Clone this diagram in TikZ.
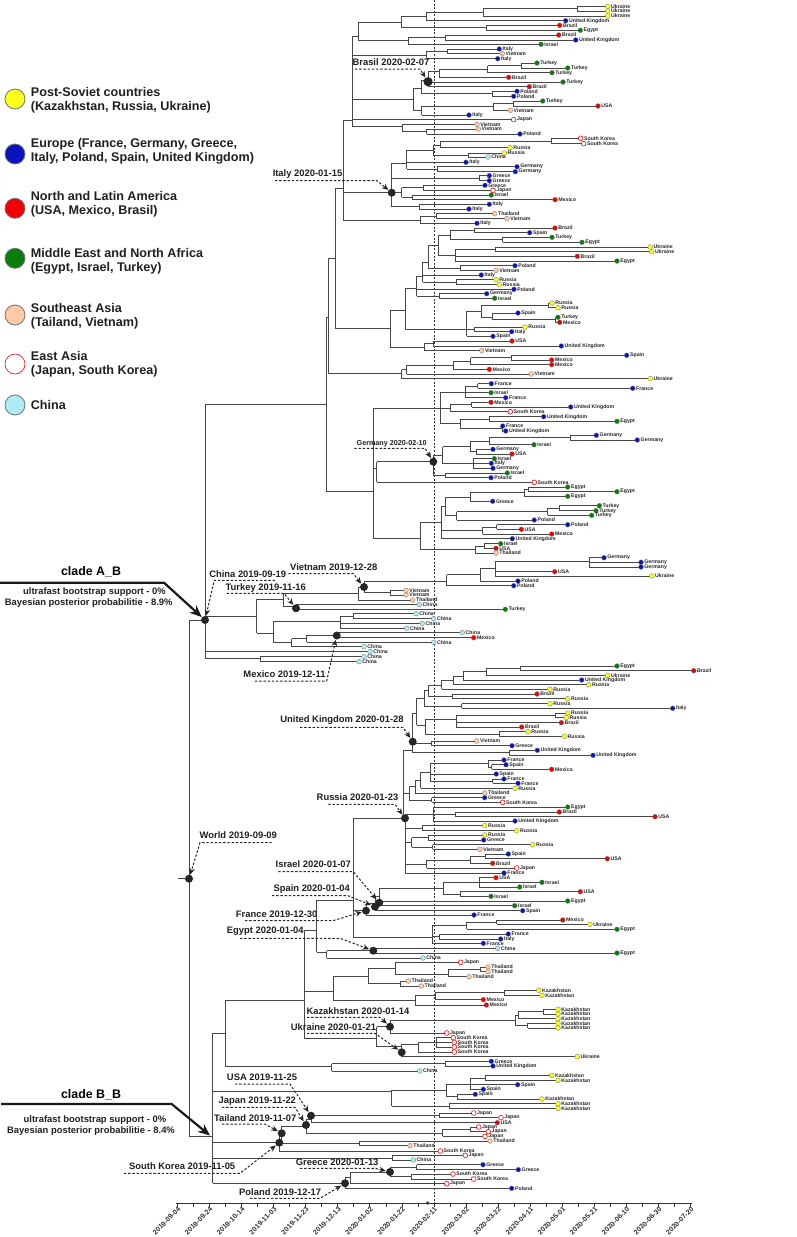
\documentclass[tikz,border=0pt]{standalone}
\usepackage{fontspec}
\setmainfont{Liberation Sans}
\usepackage{tikz}
\usetikzlibrary{arrows.meta}

\definecolor{psov}{HTML}{FFFF1A}
\definecolor{euro}{HTML}{0A14BE}
\definecolor{amer}{HTML}{F00000}
\definecolor{mena}{HTML}{0B7D0B}
\definecolor{seas}{HTML}{FFC9A3}
\definecolor{chin}{HTML}{AEEBF5}

\begin{document}
\begin{tikzpicture}[x=0.5pt,y=-0.5pt,
  br/.style={line width=0.4pt,black!72},
  tip/.style={circle,inner sep=0pt,minimum size=2.4pt,draw=black!55,line width=0.15pt},
  pso/.style={fill=psov}, eur/.style={fill=euro}, ame/.style={fill=amer},
  mea/.style={fill=mena}, sea/.style={fill=seas}, chn/.style={fill=chin},
  eas/.style={fill=white,draw=red,line width=0.3pt},
  lab/.style={anchor=west,inner sep=0pt,xshift=1.5pt,text=black!85,font=\fontsize{2.6}{3}\selectfont\bfseries},
  hub/.style={circle,fill=black!85,inner sep=0pt,minimum size=4pt},
  ann/.style={inner sep=0pt,text=black!88,font=\fontsize{4.7}{5.6}\selectfont\bfseries},
  call/.style={line width=0.5pt,black!85,dash pattern=on 1.2pt off 0.9pt,-{Stealth[length=3.2pt,width=2.8pt]}},
  big/.style={line width=1.1pt,black!90,-{Stealth[length=6pt,width=5pt]}},
  key/.style={circle,inner sep=0pt,minimum size=10pt,draw=black!55,line width=0.4pt},
  legtxt/.style={anchor=west,align=left,inner sep=0pt,text=black!88,font=\fontsize{6.3}{7}\selectfont\bfseries},
  datelab/.style={anchor=north east,rotate=45,inner sep=0pt,text=black!80,font=\fontsize{3.5}{4}\selectfont\bfseries}]

\useasboundingbox (0,0) rectangle (797,1237);

% Legend
\foreach \yy/\cc in {99/pso,154/eur,208.3/ame,258.3/mea,315/sea,364/eas,405/chn}
  \node[key,\cc] at (15,\yy) {};
\node[legtxt] (lg1) at (30.5,100.3) {Post-Soviet countries\\(Kazakhstan, Russia, Ukraine)};
\node[legtxt] (lg2) at (30.5,151.3) {Europe (France, Germany, Greece,\\Italy, Poland, Spain, United Kingdom)};
\node[legtxt] (lg3) at (30.5,204.7) {North and Latin America\\(USA, Mexico, Brasil)};
\node[legtxt] (lg4) at (30.5,261.3) {Middle East and North Africa\\(Egypt, Israel, Turkey)};
\node[legtxt] (lg5) at (30.5,316.3) {Southeast Asia\\(Tailand, Vietnam)};
\node[legtxt] (lg6) at (30.5,364.2) {East Asia\\(Japan, South Korea)};
\node[legtxt] (lg7) at (30.5,405.3) {China};

% Reference date line
\draw[line width=0.45pt,black!80,dash pattern=on 1pt off 0.8pt] (434,0) -- (434,1203);

% Internal branches: parent x / node x / y / top / bottom
\foreach \xp/\x/\y/\ya/\yb in {
  343.3/352/120.7/36/126.7, 352/358/36/22.7/40.7, 358/401.7/22.7/16/27.8,
  401.7/426/16/12.7/20.7, 426/483/12.7/8.7/16, 483/577/8.7/6.3/11,
  401.7/486/27.8/25.3/30.3, 358/408/40.7/37.5/44.3, 408/445/37.5/35/40,
  352/426/55/51.3/58.7, 426/447.7/51.3/49/53.7, 352/413.3/99/88/110.5,
  413.3/421.7/88/80/93.8, 421.7/428/80/71/86.7, 428/439/71/69/77.3,
  439/487.7/69/65.5/72.7, 487.7/521/65.5/63/68, 421.7/492/93.8/91.3/96.3,
  413.3/421.7/110.5/106/115, 421.7/493/106/103.5/110.3, 493/513/103.5/101/106,
  352/402/126.7/124.3/131.5, 402/426.7/131.5/129/134,
  335/343.3/188/120.7/220, 343.3/391.7/192.7/163/206.7, 391.7/406.7/163/150/169.2,
  406.7/433.3/150/145.3/155, 433.3/440/145.3/141/147.7, 440/551.7/141/138.3/143.7,
  433.3/468.3/155/153/157, 406.7/437/169.2/166.7/171.7, 391.7/479/178.2/175.7/180.7,
  391.7/401.7/192.7/187.8/197.3, 401.7/423.3/187.8/185.3/190.3, 401.7/412.7/197.3/195/199.7,
  391.7/419.3/206.7/204.3/209, 343.3/420/220/216.2/223.3, 420/436/216.2/213.7/218.7,
  328.3/335/258/188/328.3, 335/390/328.3/310/347, 390/405/310/288/329.3,
  405/416.7/288/276/296, 416.7/422.7/276/262/282.2, 422.7/428.3/262/245/268,
  428.3/438.3/245/235/255, 438.3/450.7/235/230.3/239.8, 450.7/474/230.3/228/232.7,
  450.7/502.7/239.8/237.3/242.3, 438.3/455/255/249.3/261, 455/495/249.3/247/251.7,
  428.3/460/268/265.7/270.3, 422.7/456/282.2/279.7/284.7, 416.7/439/296/293.7/298.3,
  405/466.7/329.3/311/336.3, 466.7/481.7/311/305.3/317.6, 481.7/548/305.3/303/307.7,
  481.7/492.3/317.6/313/319.8, 492.3/555/319.8/317.3/322.3, 466.7/474/329.3/327/331.7,
  390/424/347/343.5/350.7, 424/433.3/343.5/341/346,
  326.7/328.3/317/258/373, 328.3/401.7/373/369.6/378.7, 401.7/406.7/369.6/365.2/374,
  406.7/453.3/365.2/361.2/369.3, 453.3/470.7/361.2/357.7/364.7, 470.7/511/357.7/355.3/360,
  205/326.7/404/317/491.7, 326.7/373/491.7/408/538.3,
  373/440/408/392/423.7, 440/465/392/386/397.7, 465/477.7/386/383.7/388.3,
  440/450/408.2/404.7/411.7, 450/471.7/404.7/402.3/407, 440/460/423.7/419/428.5,
  460/489/419/416.7/421.3, 460/502/428.5/426/431,
  373/376.7/468/461.7/482.3, 376.7/433.3/461.7/455/475.3, 433.3/442.7/455/446.5/463.5,
  442.7/470/446.5/441.2/451.7, 470/489.3/441.2/437.7/444.7, 489.3/570/437.7/435.3/440,
  470/476/451.7/449.3/454, 442.7/473.3/463.5/458.7/468.3, 433.3/445/475.3/473/477.7,
  373/420.7/538.3/522/549.5, 420.7/441.7/522/506.4/538.7, 441.7/445.7/506.4/497/515.8,
  445.7/470/497/492.8/501.3, 470/524/492.8/489.3/496.3, 524/528.3/489.3/487/491.7,
  445.7/456.7/515.8/511.7/520, 456.7/547.7/511.7/508.2/515.3, 547.7/559.3/508.2/505.7/510.7,
  441.7/482.7/530.5/527/534, 482.7/496.7/527/524.7/529.3, 420.7/475/549.5/546/553,
  475/484/546/543.7/548.3,
  189/205/620/404/658.3, 205/256.7/616.7/599/633, 256.7/283.3/599/593.3/606.7,
  283.3/358.3/593.3/587.3/600, 358.3/364/587.3/581.7/592.7, 364/446.7/581.7/574.7/585.7,
  446.7/480/574.7/568.5/581, 480/495/568.5/561.2/576, 495/589/561.2/557.7/567,
  364/390/592.7/590.3/595, 283.3/296/606.7/604.7/609.3, 256.7/273.3/633/621/642.3,
  273.3/340/621/616.2/628.3, 340/353.3/616.2/613.7/618.7, 273.3/291.7/642.3/638.5/646.7,
  291.7/306.7/638.5/635.2/642.3, 306.7/336.7/635.2/632.7/637.7, 205/260/658.3/656.7/661.7,
  178/189/878.7/620/1136.7,
  189/212.7/1136.7/1033/1183.3, 212.7/225.7/1033/1000/1066.7, 225.7/304/1000/930/1038.3,
  304/316.7/930/900/952, 316.7/353.3/900/818/937, 353.3/403.3/818/750/818,
  403.3/412.7/750/713/752.8, 412.7/416.7/713/698/725, 416.7/424/698/690/706,
  424/428.3/690/685/696.3, 428.3/441.7/685/680/689.3, 441.7/453.3/680/676/684.7,
  453.3/463.3/676/671.7/680, 463.3/486/671.7/668.3/675.3, 486/520/668.3/666/670.7,
  428.3/452.7/696.3/694/698.7, 424/461.7/706/703.7/708.3, 416.7/425/725/719/734,
  425/456/719/715.3/727, 456/555/715.3/713/717.7, 425/499.3/734/731.7/736.3,
  412.7/431.3/743.3/741/745.7, 412.7/509.3/752.8/750.3/755.3,
  403.3/409.3/793/786.7/800, 409.3/415/786.7/780.3/793, 415/420.7/780.3/772.3/788.3,
  420.7/430/772.3/763.5/781.2, 430/488.3/763.5/760/767, 488.3/491.7/767/764.7/769.3,
  430/492.7/781.2/779/783.3, 409.3/431.7/800/797.7/802.3,
  403.3/405/818/814/873, 405/433.3/814/807/821, 433.3/455/814.3/812/816.7,
  405/422.3/828.2/825.7/830.7, 405/411.7/842/837.5/847, 411.7/428.3/837.5/835/840,
  411.7/432.7/847/844.7/849.3, 405/426.7/864/860/868, 426.7/470/860/856.3/863.3,
  470/485/856.3/854/858.7,
  353.3/366/910.7/903/915, 366/375/903/896/910.7, 375/379.3/896/888/905.7,
  379.3/443.3/888/882.3/894, 443.3/479.3/882.3/877.7/887, 443.3/460/894/891.7/896.3,
  353.3/432/937/925.7/943.3, 432/466.7/925.7/922.3/929.3, 466.7/496.7/922.3/920/924.3,
  432/439.3/936.5/934/939, 316.7/326.7/952/950.7/958, 326.7/373.3/950.7/948.3/953,
  304/333.3/991.7/976/1000, 333.3/368.3/976/968/983.5, 368.3/395/968/962.3/974.3,
  395/448.3/974.3/969.3/976.7, 448.3/480/969.3/967/971.7, 368.3/400/983.5/981/986,
  333.3/415/1000/995/1005, 415/435/995/992.7/999.7, 435/504.3/992.7/990.3/995.3,
  304/376.7/1038.3/1026.7/1046.7, 376.7/390/1026.7/1020/1033, 390/515/1020/1015/1025.7,
  515/518.3/1015/1011.7/1018.7, 518.3/543.3/1011.7/1009.3/1014, 515/527.7/1025.7/1023.3/1028,
  376.7/401.7/1046.7/1044/1056.7, 401.7/418.3/1044/1042/1052, 418.3/436/1042/1037.7/1047,
  225.7/331.7/1066.7/1063.6/1071, 331.7/445/1063.6/1061.3/1066,
  212.7/391.7/1091.7/1090/1106, 391.7/446.7/1090/1084/1096.7, 446.7/470/1084/1078/1089.3,
  470/485/1078/1075.3/1080.3, 446.7/457.3/1096.7/1094.3/1099, 391.7/449.3/1106/1103.7/1108.3,
  212.7/279.3/1142.7/1134.7/1151, 279.3/281.7/1134.7/1126/1143.3, 281.7/306/1126/1119/1133.3,
  306/311/1119/1115.3/1122.7, 311/439.3/1115.3/1113/1117.7, 306/442.7/1133.3/1129.3/1136.3,
  442.7/470.7/1129.3/1127/1131.7, 281.7/359.3/1143.3/1141/1145.7,
  212.7/392.3/1158/1155.3/1160, 212.7/345/1183.3/1177.8/1188.3, 345/350.7/1177.8/1172/1183.7,
  350.7/390/1172/1167.2/1176.5, 390/416.7/1167.2/1164.7/1169.7, 390/411/1176.5/1174/1179}
  \draw[br] (\xp,\y) -- (\x,\y) (\x,\ya) -- (\x,\yb);

% Tips: y / parent x / tip x / region / country
\foreach \y/\xp/\xl/\cc/\nm in {
  6.3/577/607.7/pso/Ukraine, 11/577/607.7/pso/Ukraine, 16/483/607.7/pso/Ukraine,
  20.7/426/565.7/eur/United Kingdom, 25.3/486/559.7/ame/Brazil, 30.3/486/580.3/mea/Egypt,
  35/445/558.7/ame/Brazil, 40/445/575.7/eur/United Kingdom, 44.3/408/541/mea/Israel,
  49/447.7/499.3/eur/Italy, 53.7/447.7/502.3/sea/Vietnam, 58.7/426/497.7/eur/Italy,
  63/521/537/mea/Turkey, 68/521/567.7/mea/Turkey, 72.7/487.7/552/mea/Turkey,
  77.3/439/508.7/ame/Brazil, 82/428/563/mea/Turkey, 86.7/428/529.3/ame/Brazil,
  91.3/492/517/eur/Poland, 96.3/492/513.7/eur/Poland, 101/513/542.7/mea/Turkey,
  106/513/598/ame/USA, 110.3/493/510.3/sea/Vietnam, 115/421.7/469/eur/Italy,
  119.7/352/513.7/eas/Japan, 124.3/402/477/sea/Vietnam, 129/426.7/478.3/sea/Vietnam,
  134/426.7/520/eur/Poland, 138.3/551.7/580.7/eas/South Korea, 143.7/551.7/583.7/eas/South Korea,
  147.7/440/510/pso/Russia, 153/468.3/504.3/pso/Russia, 157/468.3/488/chn/China,
  162.3/406.7/466/eur/Italy, 166.7/437/517/eur/Germany, 171.7/437/515.3/eur/Germany,
  175.7/479/489.3/eur/Greece, 180.7/479/489.3/eur/Greece, 185.3/423.3/485/eur/Greece,
  190.3/423.3/493/eas/Japan, 195/412.7/491.3/mea/Israel, 199.7/412.7/555/ame/Mexico,
  204.3/419.3/489.3/eur/Italy, 209/419.3/469/eur/Italy, 213.7/436/494.7/sea/Thailand,
  218.7/436/507/sea/Vietnam, 223.3/420/477/eur/Italy, 228/474/555/ame/Brazil,
  232.7/474/529.7/eur/Spain, 237.3/502.7/552/mea/Turkey, 242.3/502.7/582/mea/Egypt,
  247/495/650.3/pso/Ukraine, 251.7/495/651.7/pso/Ukraine, 256.3/455/577.3/ame/Brazil,
  261/455/617/mea/Egypt, 265.7/460/515/eur/Poland, 270.3/460/496/sea/Vietnam,
  275/422.7/481.3/eur/Italy, 279.7/456/496/pso/Russia, 284.7/456/499.3/pso/Russia,
  289.3/416.7/514/eur/Poland, 293.7/439/486.7/eur/Germany, 298.3/439/494.7/mea/Israel,
  303/548/552/pso/Russia, 307.7/548/558/pso/Russia, 313/492.3/518/eur/Spain,
  317.3/555/558/mea/Turkey, 322.3/555/559.7/ame/Mexico, 327/474/525/pso/Russia,
  331.7/474/511.7/eur/Italy, 336.3/466.7/493/eur/Spain, 341/433.3/512/ame/USA,
  346/433.3/561.3/eur/United Kingdom, 350.7/424/481.7/sea/Vietnam, 355.3/511/626.7/eur/Spain,
  360/511/551.7/ame/Mexico, 364.7/470.7/551.7/ame/Mexico, 369.3/453.3/489.3/ame/Mexico,
  374/406.7/531.3/sea/Vietnam, 378.7/401.7/650.3/pso/Ukraine, 383.7/477.7/491.3/eur/France,
  388.3/477.7/632.7/eur/France, 392.7/465/491/mea/Israel, 397.7/465/505.7/eur/France,
  402.3/471.7/491/ame/Mexico, 407/471.7/570.7/eur/United Kingdom, 411.7/450/510.3/eas/South Korea,
  416.7/489/543.7/eur/United Kingdom, 421.3/489/617/mea/Egypt, 426/502/502.7/eur/France,
  431/502/505.7/eur/United Kingdom, 435.3/570/596.3/eur/Germany, 440/570/637.3/eur/Germany,
  444.7/489.3/534/mea/Israel, 449.3/476/493/eur/Germany, 454/476/512/ame/USA,
  458.7/473.3/494.3/mea/Israel, 463.3/473.3/491.3/eur/Italy, 468.3/473.3/493/eur/Germany,
  473/445/507.3/mea/Israel, 477.7/445/491/eur/Poland, 482.3/376.7/534.3/eas/South Korea,
  487/528.3/567.7/mea/Egypt, 491.7/528.3/617/mea/Egypt, 496.3/524/567.7/mea/Egypt,
  501.3/470/492.7/eur/Greece, 505.7/559.3/599.3/mea/Turkey, 510.7/559.3/596/mea/Turkey,
  515.3/547.7/591.7/mea/Turkey, 520/456.7/534.3/eur/Poland, 524.7/496.7/567.7/eur/Poland,
  529.3/496.7/521.3/ame/USA, 534/482.7/551.7/ame/Mexico, 538.7/441.7/512.3/eur/United Kingdom,
  543.7/484/500.7/mea/Israel, 548.3/484/496/ame/USA, 553/475/496/sea/Thailand,
  557.7/589/604/eur/Germany, 562.3/589/641/eur/Germany, 567/589/641/eur/Germany,
  571.7/495/554.7/ame/USA, 576/495/651.7/pso/Ukraine, 581/480/518/eur/Poland,
  585.7/446.7/513.7/eur/Poland, 590.3/390/406/sea/Vietnam, 595/390/406/sea/Vietnam,
  600/358.3/412.7/sea/Thailand, 604.7/296/419.3/chn/China, 609.3/296/505.3/mea/Turkey,
  613.7/353.3/416/chn/China, 618.7/353.3/433.7/chn/China, 623.3/340/422.3/chn/China,
  628.3/340/406.7/chn/China, 632.7/336.7/462.3/chn/China, 637.7/336.7/473.7/ame/Mexico,
  642.3/306.7/433.7/chn/China, 646.7/291.7/364/chn/China, 651.7/205/370/chn/China,
  656.7/260/364/chn/China, 661.7/260/359/chn/China,
  666/520/617/mea/Egypt, 670.7/520/693.7/ame/Brazil, 675.3/486/607.7/pso/Ukraine,
  680/463.3/581.7/eur/United Kingdom, 684.7/453.3/588.7/pso/Russia, 689.3/441.7/550/pso/Russia,
  694/452.7/537/ame/Brazil, 698.7/452.7/567.7/pso/Russia, 703.7/461.7/550/pso/Russia,
  708.3/461.7/672.7/eur/Italy, 713/555/567.7/pso/Russia, 717.7/555/566.3/pso/Russia,
  722.7/456/561.3/ame/Brazil, 727/456/521.7/ame/Brazil, 731.7/499.3/528/pso/Russia,
  736.3/499.3/564.3/pso/Russia, 741/431.3/476.7/sea/Vietnam, 745.7/431.3/512/eur/Greece,
  750.3/509.3/537.3/eur/United Kingdom, 755.3/509.3/593/eur/United Kingdom, 760/488.3/504/eur/France,
  764.7/491.7/506/eur/Spain, 769.3/491.7/551.7/ame/Mexico, 774/430/496.3/eur/Spain,
  779/492.7/504/eur/France, 783.3/492.7/518/eur/France, 788.3/420.7/515/pso/Russia,
  793/415/484.7/sea/Thailand, 797.7/431.7/484.7/eur/Greece, 802.3/431.7/502.7/eas/South Korea,
  807/433.3/567.7/mea/Egypt, 812/455/559.3/ame/Brazil, 816.7/455/655/ame/USA,
  821/433.3/515/eur/United Kingdom, 825.7/422.3/484.7/pso/Russia, 830.7/422.3/516.7/pso/Russia,
  835/428.3/484.7/pso/Russia, 840/428.3/483.7/eur/Greece, 844.7/432.7/532.7/pso/Russia,
  849.3/432.7/480/sea/Vietnam, 854/485/508.3/eur/Spain, 858.7/485/607.3/ame/USA,
  863.3/470/492.7/ame/Brazil, 868/426.7/516.7/eas/Japan, 873/405/504/eur/France,
  877.7/479.3/496/ame/USA, 882.3/479.3/542/mea/Israel, 887/479.3/519.7/mea/Israel,
  891.7/460/580.3/ame/USA, 896.3/460/491/mea/Israel, 901/379.3/567.7/mea/Egypt,
  905.7/379.3/514.7/mea/Israel, 910.7/375/522.7/eur/Spain, 915/366/474/eur/France,
  920/496.7/562.7/ame/Mexico, 924.3/496.7/590/pso/Ukraine, 929.3/466.7/617/mea/Egypt,
  934/439.3/508.3/eur/France, 939/439.3/500.7/eur/Italy, 943.3/432/483.3/eur/France,
  948.3/373.3/497.7/chn/China, 953/373.3/617/mea/Egypt, 958/326.7/423/chn/China,
  962.3/395/460.7/eas/Japan, 967/480/488/sea/Thailand, 971.7/480/488/sea/Thailand,
  976.7/448.3/469/sea/Thailand, 981/400/408.3/sea/Thailand, 986/400/421.3/sea/Thailand,
  990.3/504.3/538.7/pso/Kazakhstan, 995.3/504.3/542/pso/Kazakhstan, 999.7/435/483.3/ame/Mexico,
  1005/415/486.3/ame/Mexico, 1009.3/543.3/558/pso/Kazakhstan, 1014/543.3/558/pso/Kazakhstan,
  1018.7/518.3/558/pso/Kazakhstan, 1023.3/527.7/558/pso/Kazakhstan, 1028/527.7/558/pso/Kazakhstan,
  1033/390/446.7/eas/Japan, 1037.7/436/453.3/eas/South Korea, 1042.3/436/454.3/eas/South Korea,
  1047/436/454.3/eas/South Korea, 1052/418.3/454.3/eas/South Korea, 1056.7/401.7/577.3/pso/Ukraine,
  1061.3/445/491.3/eur/Greece, 1066/445/493/eur/United Kingdom, 1071/331.7/419.7/chn/China,
  1075.3/485/551.7/pso/Kazakhstan, 1080.3/485/558/pso/Kazakhstan, 1084.7/470/517.7/eur/Spain,
  1089.3/470/483.3/eur/Spain, 1094.3/457.3/475.3/eur/Spain, 1099/457.3/542/pso/Kazakhstan,
  1103.7/449.3/558/pso/Kazakhstan, 1108.3/449.3/558/pso/Kazakhstan, 1113/439.3/473.7/eas/Japan,
  1117.7/439.3/501/eas/Japan, 1122.7/311/497.3/ame/USA, 1127/470.7/478.7/eas/Japan,
  1131.7/470.7/488.3/eas/Japan, 1136.3/442.7/485/eas/Japan, 1141/359.3/490/sea/Thailand,
  1145.7/359.3/410/sea/Thailand, 1151/279.3/440.3/eas/South Korea, 1155.3/392.3/465.3/eas/Japan,
  1160/392.3/413.3/chn/China, 1164.7/416.7/483/eur/Greece, 1169.7/416.7/518.3/eur/Greece,
  1174/411/453/eas/South Korea, 1179/411/473.7/eas/South Korea, 1183.7/350.7/446.7/eas/Japan,
  1188.3/345/511.7/eur/Poland}
{
  \draw[br] (\xp,\y) -- (\xl,\y);
  \node[tip,\cc] at (\xl,\y) {};
  \node[lab] at (\xl,\y) {\nm};
}

% Dated ancestral nodes
\node[hub,minimum size=4.6pt] (brasil) at (428,81.7) {};
\node[hub] (italy) at (391.7,192.7) {};
\node[hub] (germany) at (433.3,461.7) {};
\node[hub] (vietnam) at (364,587) {};
\node[hub] (nab) at (205,620) {};
\node[hub] (turkey) at (296,608.3) {};
\node[hub] (mexico) at (336.7,635.5) {};
\node[hub] (world) at (189,878.7) {};
\node[hub] (uk) at (412.7,741.7) {};
\node[hub] (russia) at (405,818.3) {};
\node[hub] (israel) at (379.3,902.7) {};
\node[hub] (spain) at (375,906.7) {};
\node[hub] (france) at (366,910.7) {};
\node[hub] (egypt) at (373.3,950.7) {};
\node[hub] (kazakh) at (390,1026.7) {};
\node[hub] (ukraine) at (401.7,1052.3) {};
\node[hub] (usa) at (311,1115.7) {};
\node[hub] (japan) at (306,1125) {};
\node[hub] (tailand) at (281.7,1133.3) {};
\node[hub] (skorea) at (279.3,1142.7) {};
\node[hub] (greece) at (390,1172) {};
\node[hub] (poland) at (345,1183.3) {};
\coordinate (bbtip) at (210,1135.5);

% Dates of the nodes
\node[ann] (tbr) at (391,62.3) {Brasil 2020-02-07};
\node[ann] (tit) at (307.5,173.7) {Italy 2020-01-15};
\node[ann,font=\fontsize{3.6}{4.3}\selectfont\bfseries] (tge) at (391.7,443.3) {Germany 2020-02-10};
\node[ann] (tvi) at (333.7,567.3) {Vietnam 2019-12-28};
\node[ann] (tch) at (247.7,574) {China 2019-09-19};
\node[ann] (ttu) at (265.8,587.7) {Turkey 2019-11-16};
\node[ann] (tme) at (284.5,674) {Mexico 2019-12-11};
\node[ann] (two) at (238.3,835) {World 2019-09-09};
\node[ann] (tuk) at (342,720) {United Kingdom 2020-01-28};
\node[ann] (tru) at (357.5,797) {Russia 2020-01-23};
\node[ann] (tis) at (313.3,864) {Israel 2020-01-07};
\node[ann] (tsp) at (311.7,889.3) {Spain 2020-01-04};
\node[ann] (tfr) at (276.7,914.3) {France 2019-12-30};
\node[ann] (teg) at (265.3,931.7) {Egypt 2020-01-04};
\node[ann] (tkz) at (358,1010.7) {Kazakhstan 2020-01-14};
\node[ann] (tua) at (333.5,1026.7) {Ukraine 2020-01-21};
\node[ann] (tus) at (262,1077.3) {USA 2019-11-25};
\node[ann] (tja) at (257.3,1101) {Japan 2019-11-22};
\node[ann] (tta) at (255.2,1117.7) {Tailand 2019-11-07};
\node[ann] (tsk) at (182.2,1166) {South Korea 2019-11-05};
\node[ann] (tgr) at (337.2,1162.7) {Greece 2020-01-13};
\node[ann] (tpl) at (280.2,1191.7) {Poland 2019-12-17};

\draw[call] (355,69) -- (420,69) -- (brasil);
\draw[call] (275,180.7) -- (377,180.7) -- (italy);
\draw[call] (354.3,448.3) -- (425,448.3) -- (germany);
\draw[call] (288.3,573.7) -- (353.3,573.7) -- (vietnam);
\draw[call] (275,580.3) -- (214.3,580.3) -- (nab);
\draw[call] (226.7,593.3) -- (284,593.3) -- (turkey);
\draw[call] (255,681) -- (326.7,681) -- (mexico);
\draw[call] (271.7,842.7) -- (200,842.7) -- (world);
\draw[call] (300,727.3) -- (403,727.3) -- (uk);
\draw[call] (328.3,804.3) -- (395,804.3) -- (russia);
\draw[call] (278.3,871.7) -- (353.3,871.7) -- (israel);
\draw[call] (272,895.7) -- (348,895.7) -- (spain);
\draw[call] (245,920.7) -- (333,920.7) -- (france);
\draw[call] (240,938.3) -- (340,938.3) -- (egypt);
\draw[call] (307,1017.3) -- (380,1017.3) -- (kazakh);
\draw[call] (307,1033.3) -- (375,1033.3) -- (ukraine);
\draw[call] (235,1084) -- (290,1084) -- (usa);
\draw[call] (222,1107.3) -- (295,1107.3) -- (japan);
\draw[call] (222,1124) -- (265,1124) -- (tailand);
\draw[call] (124,1173.3) -- (240,1173.3) -- (skorea);
\draw[call] (300,1168.3) -- (375,1168.3) -- (greece);
\draw[call] (250,1198.3) -- (320,1198.3) -- (poland);

% Clade support
\node[inner sep=0pt,font=\fontsize{6.2}{7}\selectfont\bfseries] (tab) at (91,571.7) {clade A\_B};
\node[ann] (sab1) at (94.5,592.3) {ultrafast bootstrap support - 0\%};
\node[ann] (sab2) at (88.7,602.7) {Bayesian posterior probabilitie - 8.9\%};
\draw[big] (0,582.7) -- (164,582.7) -- (nab);
\node[inner sep=0pt,font=\fontsize{6.2}{7}\selectfont\bfseries] (tbb) at (91,1095) {clade B\_B};
\node[ann] (sbb1) at (95,1120) {ultrafast bootstrap support - 0\%};
\node[ann] (sbb2) at (91,1130.7) {Bayesian posterior probabilitie - 8.4\%};
\draw[big] (1,1104) -- (171.7,1104) -- (bbtip);

% Time axis
\draw[line width=0.45pt,black!80] (176,1203) -- (691.5,1203);
\foreach \k in {0,...,32}
  \draw[line width=0.4pt,black!80] ({177.4+16.04*\k},1203) -- ({177.4+16.04*\k},1206.5);
\fill[black!80] (427.7,1203) circle (0.9pt);
\foreach \dd [count=\k from 0] in {2019-09-04,2019-09-24,2019-10-14,2019-11-03,2019-11-23,
  2019-12-13,2020-01-02,2020-01-22,2020-02-11,2020-03-02,2020-03-22,2020-04-11,
  2020-05-01,2020-05-21,2020-06-10,2020-06-30,2020-07-20}
  \node[datelab] at ({177.4+32.08*\k},1206) {\dd};

\end{tikzpicture}
\end{document}
